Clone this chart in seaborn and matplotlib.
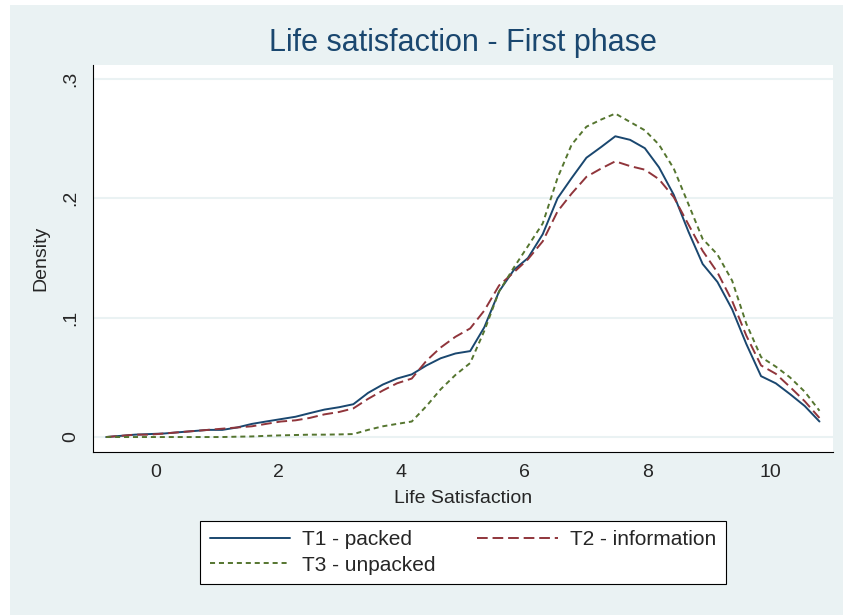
import matplotlib
matplotlib.use('Agg')
import pandas as pd
import matplotlib.pyplot as plt
import seaborn as sns
from matplotlib.patches import Rectangle

# kdensity evaluation points (50 points from -0.8 to 10.8)
life_sat = [-0.80, -0.56, -0.33, -0.09, 0.15, 0.38, 0.62, 0.86, 1.09, 1.33,
            1.57, 1.80, 2.04, 2.28, 2.51, 2.75, 2.99, 3.22, 3.46, 3.70,
            3.93, 4.17, 4.41, 4.64, 4.88, 5.12, 5.35, 5.59, 5.83, 6.06,
            6.30, 6.54, 6.77, 7.01, 7.25, 7.48, 7.72, 7.96, 8.19, 8.43,
            8.67, 8.90, 9.14, 9.38, 9.61, 9.85, 10.09, 10.32, 10.56, 10.80]

t1_packed = [0.000, 0.001, 0.002, 0.0025, 0.003, 0.004, 0.005, 0.006, 0.006, 0.008,
             0.011, 0.013, 0.015, 0.017, 0.020, 0.023, 0.025, 0.0275, 0.037, 0.044,
             0.049, 0.0525, 0.060, 0.066, 0.070, 0.072, 0.092, 0.122, 0.140, 0.150,
             0.170, 0.200, 0.217, 0.234, 0.243, 0.252, 0.249, 0.242, 0.226, 0.203,
             0.172, 0.145, 0.130, 0.107, 0.078, 0.051, 0.045, 0.036, 0.026, 0.013]

t2_information = [0.000, 0.001, 0.002, 0.002, 0.003, 0.004, 0.005, 0.006, 0.007, 0.008,
                  0.009, 0.011, 0.013, 0.014, 0.016, 0.019, 0.021, 0.024, 0.032, 0.039,
                  0.045, 0.049, 0.064, 0.075, 0.084, 0.091, 0.106, 0.127, 0.138, 0.149,
                  0.164, 0.189, 0.204, 0.218, 0.225, 0.231, 0.227, 0.224, 0.216, 0.201,
                  0.178, 0.156, 0.138, 0.114, 0.085, 0.060, 0.053, 0.042, 0.030, 0.016]

t3_unpacked = [0.000, 0.000, 0.000, 0.000, 0.000, 0.000, 0.000, 0.000, 0.000, 0.0003,
               0.0005, 0.001, 0.0014, 0.0017, 0.002, 0.002, 0.0022, 0.0025, 0.006, 0.009,
               0.011, 0.013, 0.026, 0.040, 0.052, 0.062, 0.089, 0.122, 0.142, 0.160,
               0.179, 0.217, 0.245, 0.260, 0.266, 0.271, 0.264, 0.257, 0.245, 0.225,
               0.195, 0.166, 0.153, 0.131, 0.095, 0.067, 0.059, 0.050, 0.038, 0.022]

groups = ['T1 - packed', 'T2 - information', 'T3 - unpacked']
y_ticks = [0, 0.1, 0.2, 0.3]
y_tick_labels = ['0', '.1', '.2', '.3']
x_ticks = [0, 2, 4, 6, 8, 10]

df = pd.DataFrame({
    'Life Satisfaction': life_sat * 3,
    'Density': t1_packed + t2_information + t3_unpacked,
    'group': [g for g in groups for _ in life_sat],
})

sns.set_style('white')
plt.rcParams['font.family'] = ['Liberation Sans', 'DejaVu Sans']

bg = '#EAF2F3'
palette = {'T1 - packed': '#1A476F', 'T2 - information': '#90353B', 'T3 - unpacked': '#55752F'}
dashes = {'T1 - packed': '', 'T2 - information': (5.5, 2.5), 'T3 - unpacked': (2.6, 2.0)}

fig = plt.figure(figsize=(8.43, 6.15), dpi=100, facecolor='white')
fig.patches.append(Rectangle((10 / 843, 0), 1, 1 - 5 / 615, transform=fig.transFigure,
                             facecolor=bg, edgecolor='none', zorder=-1))
ax = fig.add_axes([0.110, 0.2655, 0.878, 0.6288])
ax.set_facecolor('white')

sns.lineplot(data=df, x='Life Satisfaction', y='Density', hue='group', style='group',
             palette=palette, dashes=dashes, linewidth=1.4, sort=False,
             estimator=None, ax=ax)

ax.set_xlim(-1.018, 11.018)
ax.set_ylim(-0.0123, 0.3117)
ax.set_xticks(x_ticks)
ax.set_yticks(y_ticks)
ax.set_yticklabels(y_tick_labels, rotation=90, va='center')
ax.yaxis.grid(True, color=bg, linewidth=1.5)
ax.set_axisbelow(True)

for side in ['top', 'right']:
    ax.spines[side].set_visible(False)
for side in ['left', 'bottom']:
    ax.spines[side].set_color('black')
    ax.spines[side].set_linewidth(0.8)

ax.tick_params(direction='out', length=5, width=0.8, color='black', labelsize=14)
ax.tick_params(axis='x', pad=3.5)
ax.tick_params(axis='y', pad=5)
ax.set_xlabel('Life Satisfaction', fontsize=14, labelpad=6.5)
ax.set_ylabel('Density', fontsize=14, labelpad=9)
ax.set_title('Life satisfaction - First phase', fontsize=22, color='#1A476F', pad=10)

# Stata style legend: two columns, row-major order
handles, labels = ax.get_legend_handles_labels()
lookup = dict(zip(labels, handles))
ax.get_legend().remove()
order = ['T1 - packed', 'T3 - unpacked', 'T2 - information']
leg = fig.legend([lookup[k] for k in order], order, ncol=2, loc='upper center',
                 bbox_to_anchor=(463 / 843, 1 - 521 / 615), fontsize=15,
                 frameon=True, fancybox=False, edgecolor='black', framealpha=1,
                 handlelength=3.85, handletextpad=0.6, columnspacing=2.0,
                 labelspacing=0.3, borderpad=0.45, borderaxespad=0)
leg.get_frame().set_linewidth(0.8)

fig.savefig('out.png', dpi=100, facecolor=fig.get_facecolor())
